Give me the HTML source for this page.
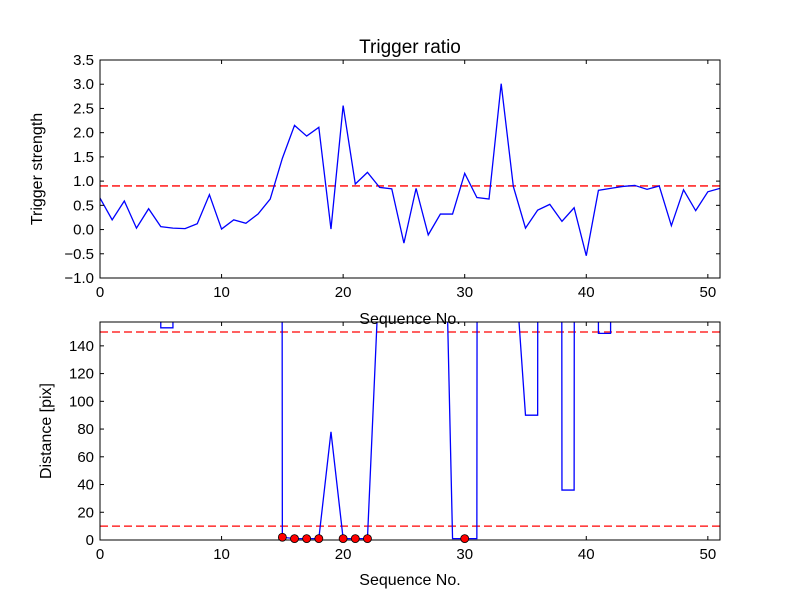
<!DOCTYPE html>
<html><head><meta charset="utf-8"><style>
body{margin:0;background:#fff}
svg{display:block;font-family:"Liberation Sans",sans-serif}
</style></head><body>
<svg id="c" width="800" height="600"></svg>
<script>
const seq = Array.from({length:52},(_,i)=>i);
const strength = [0.65,0.2,0.59,0.03,0.43,0.06,0.03,0.02,0.12,0.72,0.01,0.2,0.13,0.32,0.63,1.47,2.15,1.93,2.11,0.01,2.56,0.94,1.18,0.87,0.84,-0.28,0.85,-0.11,0.32,0.32,1.16,0.66,0.63,3.01,0.89,0.03,0.4,0.52,0.17,0.45,-0.54,0.81,0.85,0.89,0.91,0.83,0.9,0.08,0.82,0.39,0.78,0.85];
const H=10000;
const distance = [H,H,H,H,H,153,153,H,H,H,H,H,H,H,H,2,1,1,1,78,1,1,1,200,H,H,H,H,391,1,1,1,H,H,216,90,90,H,36,36,H,149,149,H,H,H,H,H,H,H,H,H];
const markerX = [15,16,17,18,20,21,22,30];
const markerY = [2,1,1,1,1,1,1,1];
const strengthThreshold = [0.9];
const distThresholds = [150,10];
const xTicks = [0,10,20,30,40,50];
const yTicksTop = [-1,-0.5,0,0.5,1,1.5,2,2.5,3,3.5];
const yTicksBot = [0,20,40,60,80,100,120,140];

const NS="http://www.w3.org/2000/svg";
const svg=document.getElementById('c');
function el(t,a,p){const e=document.createElementNS(NS,t);for(const k in a)e.setAttribute(k,a[k]);(p||svg).appendChild(e);return e;}
const X0=100,X1=720,XMAX=51;
const sx=v=>X0+v/XMAX*(X1-X0);

function panel(name,top,bot,ymin,ymax,yticks,fmt){
  const sy=v=>bot-(v-ymin)/(ymax-ymin)*(bot-top);
  const g=el('g',{});  
  const cid='clip-'+name;
  const cp=el('clipPath',{id:cid},g); el('rect',{x:X0,y:top,width:X1-X0,height:bot-top},cp);
  const plot=el('g',{'clip-path':'url(#'+cid+')'},g);
  return {g,plot,sy,top,bot,
    frame(){
      const r=el('rect',{x:X0,y:top,width:X1-X0,height:bot-top,fill:'none',stroke:'#000','stroke-width':1},g);
      
      xTicks.forEach(t=>{const x=sx(t);
        el('line',{x1:x,x2:x,y1:bot,y2:bot-4,stroke:'#000'},g);el('line',{x1:x,x2:x,y1:top,y2:top+4,stroke:'#000'},g);
        const tx=el('text',{x:x,y:bot+19,'font-size':15,'text-anchor':'middle'},g);tx.textContent=t;
        });
      yticks.forEach(t=>{const y=sy(t);
        el('line',{x1:X0,x2:X0+4,y1:y,y2:y,stroke:'#000'},g);el('line',{x1:X1,x2:X1-4,y1:y,y2:y,stroke:'#000'},g);
        const tx=el('text',{x:X0-6,y:y+5,'font-size':15,'text-anchor':'end'},g);tx.textContent=fmt(t).replace('-','\u2212');
        });
    }};
}
function hline(p,v,name){const l=el('line',{x1:X0,x2:X1,y1:p.sy(v),y2:p.sy(v),stroke:'#f00','stroke-width':1.3,'stroke-dasharray':'8,4'},p.plot);
  }
function series(p,xs,ys,name){const d=xs.map((x,i)=>(i?'L':'M')+sx(x).toFixed(2)+','+p.sy(ys[i]).toFixed(2)).join('');
  const l=el('path',{d,fill:'none',stroke:'#00f','stroke-width':1.3},p.plot);
  }

const A=panel('top',60,278,-1,3.5,yTicksTop,t=>t.toFixed(1));
strengthThreshold.forEach(v=>hline(A,v,'strength-threshold-line'));
series(A,seq,strength,'trigger-strength-line');
A.frame();

const B=panel('bottom',322,540,0,157.2,yTicksBot,t=>String(t));
distThresholds.forEach(v=>hline(B,v,'distance-threshold-line'));
series(B,seq,distance,'distance-line');
markerX.forEach((x,i)=>{const c=el('circle',{cx:sx(x),cy:B.sy(markerY[i]),r:4,fill:'#f00',stroke:'#000','stroke-width':0.8},svg);
  });
B.frame();

function txt(s,a,name){const t=el('text',a);t.textContent=s;}
txt('Trigger ratio',{x:410,y:53,'font-size':19,'text-anchor':'middle'},'chart-title');
txt('Sequence No.',{x:410,y:324,'font-size':16,'text-anchor':'middle'},'top-x-axis-title');
txt('Sequence No.',{x:410,y:585,'font-size':16,'text-anchor':'middle'},'bottom-x-axis-title');
txt('Trigger strength',{x:42,y:169,'font-size':16,'text-anchor':'middle',transform:'rotate(-90 42 169)'},'top-y-axis-title');
txt('Distance [pix]',{x:51,y:431,'font-size':16,'text-anchor':'middle',transform:'rotate(-90 51 431)'},'bottom-y-axis-title');
</script>
</body></html>
